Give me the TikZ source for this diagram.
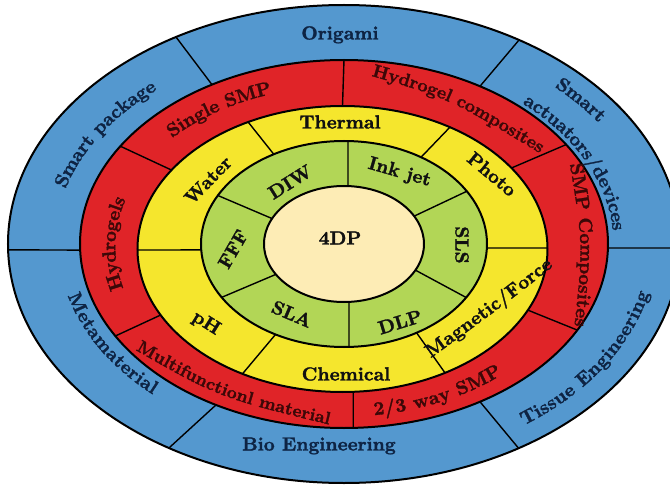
\documentclass[tikz,border=0pt]{standalone}
\usepackage{fontspec}
\setmainfont{lmroman10-regular}[Extension=.otf,BoldFont=lmroman10-bold,BoldFeatures={FakeBold=1.6}]
\usetikzlibrary{calc,decorations.text}
\definecolor{ringblue}{HTML}{5498CF}
\definecolor{ringred}{HTML}{E02428}
\definecolor{ringyellow}{HTML}{F5E62D}
\definecolor{ringgreen}{HTML}{B2D656}
\definecolor{ringbeige}{HTML}{FDECB5}
\definecolor{bluetext}{HTML}{0E2444}
\definecolor{redtext}{HTML}{3D0808}
\definecolor{darktext}{HTML}{111111}
\newcommand{\lblfont}{\fontsize{19}{21}\selectfont\bfseries}
\newcommand{\midfont}{\fontsize{18}{20}\selectfont\bfseries}
\newcommand{\smfont}{\fontsize{17.5}{19}\selectfont\bfseries}
% #1 centre, #2 x radius, #3 y radius, #4 start angle, #5 end angle, #6 colour, #7 text
\newcommand{\curvetext}[7]{%
  \path[decorate,decoration={text along path,text align=center,raise=-6.5pt,
      text color=#6,text={|\lblfont|#7}}]
    ($(#1)+(#4:#2pt and #3pt)$) arc[start angle=#4,end angle=#5,x radius=#2pt,y radius=#3pt];}
% divider: #1 inner angle, #2 inner centre, #3 #4 inner radii, #5 outer angle, #6 outer centre, #7 #8 outer radii
\newcommand{\divline}[8]{%
  \draw[divider] ($(#2)+(#1:#3pt and #4pt)$) -- ($(#6)+(#5:#7pt and #8pt)$);}
\begin{document}
\begin{tikzpicture}[
  ring/.style={draw=black,line width=2pt},
  divider/.style={draw=black,line width=1.4pt},
  lbl/.style={font=\lblfont,inner sep=0pt,text height=13pt,text depth=0pt,text=darktext},
  freetext/.style={decorate,decoration={text along path,text align=center,raise=-6.5pt,
      text color=#1}}]
\useasboundingbox (-344pt,-241pt) rectangle (326pt,244pt);
\fill[white] (-344pt,-241pt) rectangle (326pt,244pt);
\clip (-344pt,-241pt) rectangle (326pt,244pt);
\coordinate (O) at (0pt,0pt);
\coordinate (Y) at (-1.5pt,-5pt);
\coordinate (R) at (-0.75pt,-2.5pt);
% rings
\draw[ring,fill=ringblue] (O) ellipse[x radius=336pt,y radius=239pt];
\draw[ring,fill=ringred] (O) ellipse[x radius=264pt,y radius=184pt];
\draw[ring,fill=ringyellow] (Y) ellipse[x radius=205pt,y radius=143pt];
\draw[ring,fill=ringgreen] (O) ellipse[x radius=143pt,y radius=103pt];
\draw[ring,fill=ringbeige] (O) ellipse[x radius=80pt,y radius=58pt];
% blue ring dividers
\divline{120}{O}{264}{184}{120}{O}{336}{239}
\divline{59}{O}{264}{184}{58.6}{O}{336}{239}
\divline{181.9}{O}{264}{184}{181.4}{O}{336}{239}
\divline{-1.25}{O}{264}{184}{-0.96}{O}{336}{239}
\divline{241}{O}{264}{184}{238.6}{O}{336}{239}
\divline{-59}{O}{264}{184}{-58.7}{O}{336}{239}
% red ring dividers
\divline{90}{Y}{205}{143}{90}{O}{264}{184}
\divline{146.5}{Y}{205}{143}{147.9}{O}{264}{184}
\divline{34.5}{Y}{205}{143}{32.7}{O}{264}{184}
\divline{207.5}{Y}{205}{143}{210}{O}{264}{184}
\divline{273}{Y}{205}{143}{272}{O}{264}{184}
\divline{-25.3}{Y}{205}{143}{-27.9}{O}{264}{184}
% yellow ring dividers
\divline{119.4}{O}{143}{103}{117.4}{Y}{205}{143}
\divline{57.4}{O}{143}{103}{58.4}{Y}{205}{143}
\divline{183.3}{O}{143}{103}{180.4}{Y}{205}{143}
\divline{-2.2}{O}{143}{103}{0.4}{Y}{205}{143}
\divline{241.4}{O}{143}{103}{240.8}{Y}{205}{143}
\divline{-59.5}{O}{143}{103}{-60}{Y}{205}{143}
% green ring dividers
\divline{87.1}{O}{80}{58}{88.4}{O}{143}{103}
\divline{154}{O}{80}{58}{151.9}{O}{143}{103}
\divline{28.7}{O}{80}{58}{30.8}{O}{143}{103}
\divline{211.6}{O}{80}{58}{211.2}{O}{143}{103}
\divline{273.6}{O}{80}{58}{272}{O}{143}{103}
\divline{-26.8}{O}{80}{58}{-31.3}{O}{143}{103}
% blue ring labels
\node[lbl,text=bluetext] (origami) at (-4pt,211pt) {Origami};
\node[lbl,text=bluetext] (bioeng) at (-25pt,-200pt) {Bio Engineering};
\curvetext{O}{296}{208.5}{172.6}{123.1}{bluetext}{Smart package}
\curvetext{O}{315}{221.5}{53.4}{27.5}{bluetext}{Smart}
\curvetext{O}{276}{194}{56.1}{-5.3}{bluetext}{actuators/devices}
\curvetext{O}{279}{196}{185.6}{234.8}{bluetext}{Metamaterial}
\curvetext{O}{306}{215.2}{298.8}{356}{bluetext}{Tissue Engineering}
% red ring labels
\curvetext{R}{239.2}{166.8}{146.9}{99.4}{redtext}{Single SMP}
\path[freetext=redtext,decoration={text={|\midfont|Hydrogel composites}}]
  (22.9pt,176.2pt) .. controls (108pt,151.5pt) .. (205.1pt,92.8pt);
\path[freetext=redtext,decoration={text={|\lblfont|SMP Composites}}]
  (231pt,89pt) .. controls (246pt,-1pt) .. (236pt,-91pt);
\curvetext{R}{234.5}{163.5}{205.6}{152.4}{redtext}{Hydrogels}
\path[freetext=redtext,decoration={text={|\smfont|Multifunctionl material}}]
  (-210.3pt,-97.4pt) .. controls (-123pt,-147.5pt) .. (-7.7pt,-175.6pt);
\curvetext{R}{234.5}{163.5}{270}{320.3}{redtext}{2/3 way SMP}
% yellow ring labels
\node[lbl] (thermal) at (-4pt,122pt) {Thermal};
\node[lbl] (chemical) at (2pt,-130pt) {Chemical};
\node[lbl,rotate=46] (water) at (-136pt,64pt) {Water};
\node[lbl,rotate=-40] (photo) at (148pt,70pt) {Photo};
\node[lbl,rotate=-32] (ph) at (-137pt,-78pt) {pH};
\path[freetext=darktext,decoration={text={|\lblfont|Magnetic/Force}}]
  (76pt,-114pt) .. controls (156pt,-56pt) .. (212pt,-12pt);
% green ring labels
\node[lbl,rotate=32] (diw) at (-54pt,62pt) {DIW};
\node[lbl,rotate=-16] (inkjet) at (56pt,73pt) {Ink jet};
\node[lbl,rotate=-90] (sls) at (118pt,-1pt) {SLS};
\node[lbl,rotate=17] (dlp) at (56pt,-78pt) {DLP};
\node[lbl,rotate=-23] (sla) at (-52pt,-70pt) {SLA};
\node[lbl,rotate=60] (fff) at (-111pt,-5pt) {FFF};
% centre
\node[lbl] (fourdp) at (-4pt,6pt) {4DP};
\end{tikzpicture}
\end{document}
